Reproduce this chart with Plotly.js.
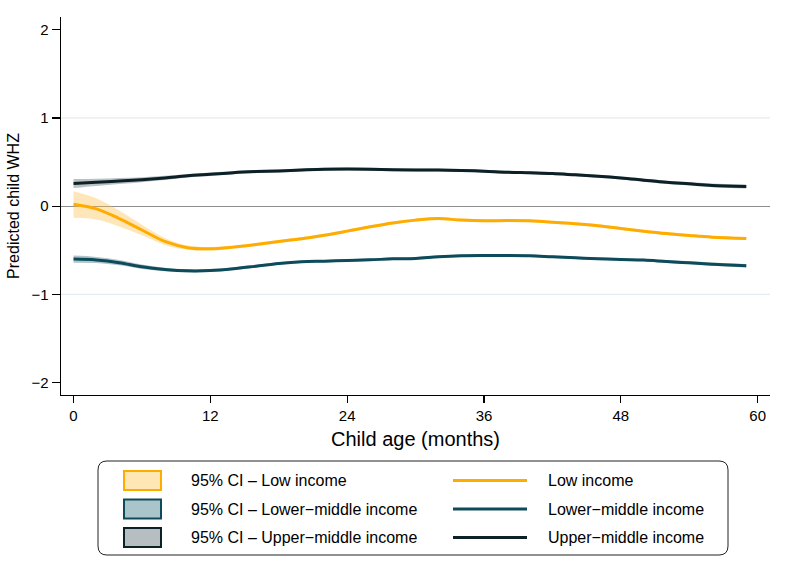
<!DOCTYPE html>
<html>
<head>
<meta charset="utf-8">
<script src="https://cdn.plot.ly/plotly-3.0.1.min.js"></script>
<style>html,body{margin:0;padding:0;background:#fff;}#chart{width:800px;height:571px;}</style>
</head>
<body>
<div id="chart"></div>
<script>
// ---- data ----
const months = [0,2,4,6,8,10,12,14,16,18,20,22,24,26,28,30,32,34,36,38,40,42,44,46,48,50,52,54,56,59];

const lowMean = [0.023,-0.03,-0.14,-0.27,-0.40,-0.47,-0.483,-0.464,-0.434,-0.40,-0.37,-0.33,-0.283,-0.234,-0.19,-0.158,-0.14,-0.158,-0.166,-0.162,-0.166,-0.181,-0.20,-0.223,-0.253,-0.283,-0.31,-0.332,-0.351,-0.366];
const lowHi   = [0.17,0.09,-0.05,-0.21,-0.36,-0.445,-0.463,-0.446,-0.416,-0.383,-0.353,-0.313,-0.266,-0.217,-0.173,-0.141,-0.123,-0.141,-0.149,-0.145,-0.149,-0.164,-0.183,-0.206,-0.236,-0.266,-0.293,-0.315,-0.334,-0.348];
const lowLo   = [-0.13,-0.15,-0.23,-0.33,-0.44,-0.495,-0.503,-0.482,-0.452,-0.417,-0.387,-0.347,-0.300,-0.251,-0.207,-0.175,-0.157,-0.175,-0.183,-0.179,-0.183,-0.198,-0.217,-0.240,-0.270,-0.300,-0.327,-0.349,-0.368,-0.384];

const lmMean = [-0.60,-0.61,-0.64,-0.687,-0.717,-0.733,-0.73,-0.71,-0.68,-0.65,-0.63,-0.623,-0.615,-0.608,-0.597,-0.593,-0.574,-0.563,-0.56,-0.56,-0.563,-0.574,-0.585,-0.596,-0.604,-0.61,-0.627,-0.642,-0.657,-0.676];
const lmHi   = [-0.56,-0.575,-0.61,-0.662,-0.697,-0.715,-0.713,-0.694,-0.665,-0.636,-0.616,-0.609,-0.601,-0.594,-0.583,-0.579,-0.56,-0.549,-0.546,-0.546,-0.549,-0.56,-0.571,-0.582,-0.59,-0.595,-0.611,-0.625,-0.639,-0.656];
const lmLo   = [-0.64,-0.645,-0.67,-0.712,-0.737,-0.751,-0.747,-0.726,-0.695,-0.664,-0.644,-0.637,-0.629,-0.622,-0.611,-0.607,-0.588,-0.577,-0.574,-0.574,-0.577,-0.588,-0.599,-0.610,-0.618,-0.625,-0.643,-0.659,-0.675,-0.696];

const umMean = [0.257,0.27,0.285,0.30,0.32,0.345,0.362,0.38,0.392,0.40,0.41,0.418,0.42,0.418,0.413,0.41,0.41,0.405,0.397,0.385,0.378,0.37,0.355,0.34,0.32,0.295,0.27,0.253,0.235,0.223];
const umHi   = [0.307,0.31,0.318,0.328,0.344,0.366,0.381,0.398,0.409,0.417,0.427,0.435,0.437,0.435,0.43,0.427,0.427,0.422,0.414,0.402,0.395,0.387,0.372,0.357,0.337,0.313,0.289,0.273,0.256,0.246];
const umLo   = [0.207,0.23,0.252,0.272,0.296,0.324,0.343,0.362,0.375,0.383,0.393,0.401,0.403,0.401,0.396,0.393,0.393,0.388,0.380,0.368,0.361,0.353,0.338,0.323,0.303,0.277,0.251,0.233,0.214,0.200];

const seriesNames = ['Low income','Lower\u2212middle income','Upper\u2212middle income'];
const ciNames = ['95% CI \u2013 Low income','95% CI \u2013 Lower\u2212middle income','95% CI \u2013 Upper\u2212middle income'];
const xTicks = [0,12,24,36,48,60];
const yTicks = [-2,-1,0,1,2];

// ---- styles ----
const lineColors = ['#FFAC00','#0E4B5A','#0B2027'];
const ciFill = ['rgba(255,190,70,0.38)','rgba(14,75,90,0.32)','rgba(11,32,39,0.28)'];
const ciBox = ['#FFE7B5','#AAC5CA','#B7BEC1'];

const means = [lowMean, lmMean, umMean];
const his = [lowHi, lmHi, umHi];
const los = [lowLo, lmLo, umLo];

const traces = [];
for (let i = 0; i < 3; i++) {
  traces.push({x: months, y: los[i], type:'scatter', mode:'lines', line:{width:0, shape:'spline', color:ciFill[i]}, hoverinfo:'skip', showlegend:false});
  traces.push({x: months, y: his[i], type:'scatter', mode:'lines', fill:'tonexty', fillcolor:ciFill[i], line:{width:0, shape:'spline', color:ciFill[i]}, name: ciNames[i], showlegend:false});
}
for (let i = 0; i < 3; i++) {
  traces.push({x: months, y: means[i], type:'scatter', mode:'lines', line:{width:3, shape:'spline', color:lineColors[i]}, name: seriesNames[i], showlegend:false});
}

// ---- manual legend (Stata style) ----
const L = 61, R = 770, T = 17, B = 395;
const px = x => (x - L) / (R - L);
const py = y => (B - y) / (B - T);

function roundRect(x0, y0, x1, y1, r) {
  const rx = r / (R - L), ry = r / (B - T);
  const a = px(x0), b = px(x1), top = py(y0), bot = py(y1);
  return `M${a+rx},${top} L${b-rx},${top} Q${b},${top} ${b},${top-ry} L${b},${bot+ry} Q${b},${bot} ${b-rx},${bot} L${a+rx},${bot} Q${a},${bot} ${a},${bot+ry} L${a},${top-ry} Q${a},${top} ${a+rx},${top} Z`;
}

const shapes = [
  {type:'line', xref:'paper', yref:'y', x0:0, x1:1, y0:1, y1:1, line:{color:'#E3ECF0', width:1.2}, layer:'below'},
  {type:'line', xref:'paper', yref:'y', x0:0, x1:1, y0:-1, y1:-1, line:{color:'#E3ECF0', width:1.2}, layer:'below'},
  {type:'path', xref:'paper', yref:'paper', path: roundRect(98, 461, 728, 555, 9), line:{color:'#222', width:1}, fillcolor:'rgba(0,0,0,0)'}
];
const annotations = [];
const rowY = [480.5, 509, 537.5];
for (let i = 0; i < 3; i++) {
  shapes.push({type:'rect', xref:'paper', yref:'paper', x0:px(124), x1:px(161), y0:py(rowY[i]-9.5), y1:py(rowY[i]+9.5), fillcolor:ciBox[i], line:{color:lineColors[i], width:2}});
  shapes.push({type:'line', xref:'paper', yref:'paper', x0:px(453), x1:px(527), y0:py(rowY[i]), y1:py(rowY[i]), line:{color:lineColors[i], width:3}});
  annotations.push({xref:'paper', yref:'paper', x:px(189), y:py(rowY[i]), text:ciNames[i], showarrow:false, xanchor:'left', yanchor:'middle', font:{size:16, color:'#000'}});
  annotations.push({xref:'paper', yref:'paper', x:px(546), y:py(rowY[i]), text:seriesNames[i], showarrow:false, xanchor:'left', yanchor:'middle', font:{size:16, color:'#000'}});
}

const layout = {
  width: 800, height: 571,
  margin: {l: L, r: 800 - R, t: T, b: 571 - B},
  paper_bgcolor: '#fff', plot_bgcolor: '#fff',
  font: {family: 'Liberation Sans, Arial, sans-serif', color: '#000'},
  showlegend: false,
  xaxis: {
    range: [-1.1, 61.08], tickvals: xTicks, ticks: 'outside', ticklen: 7, tickwidth: 1.2, tickcolor: '#000',
    showline: true, linecolor: '#000', linewidth: 1.3, showgrid: false, zeroline: false,
    tickfont: {size: 15}, title: {text: 'Child age (months)', font: {size: 20}, standoff: 8}
  },
  yaxis: {
    range: [-2.14, 2.144], tickvals: yTicks, ticks: 'outside', ticklen: 8, tickwidth: 1.2, tickcolor: '#000',
    showline: true, linecolor: '#000', linewidth: 1.3, showgrid: false,
    zeroline: true, zerolinecolor: '#8E8E8E', zerolinewidth: 1.3,
    tickfont: {size: 15}, title: {text: 'Predicted child WHZ', font: {size: 16}, standoff: 8}
  },
  shapes: shapes,
  annotations: annotations
};

Plotly.newPlot('chart', traces, layout, {displayModeBar: false, staticPlot: true});
</script>
</body>
</html>
